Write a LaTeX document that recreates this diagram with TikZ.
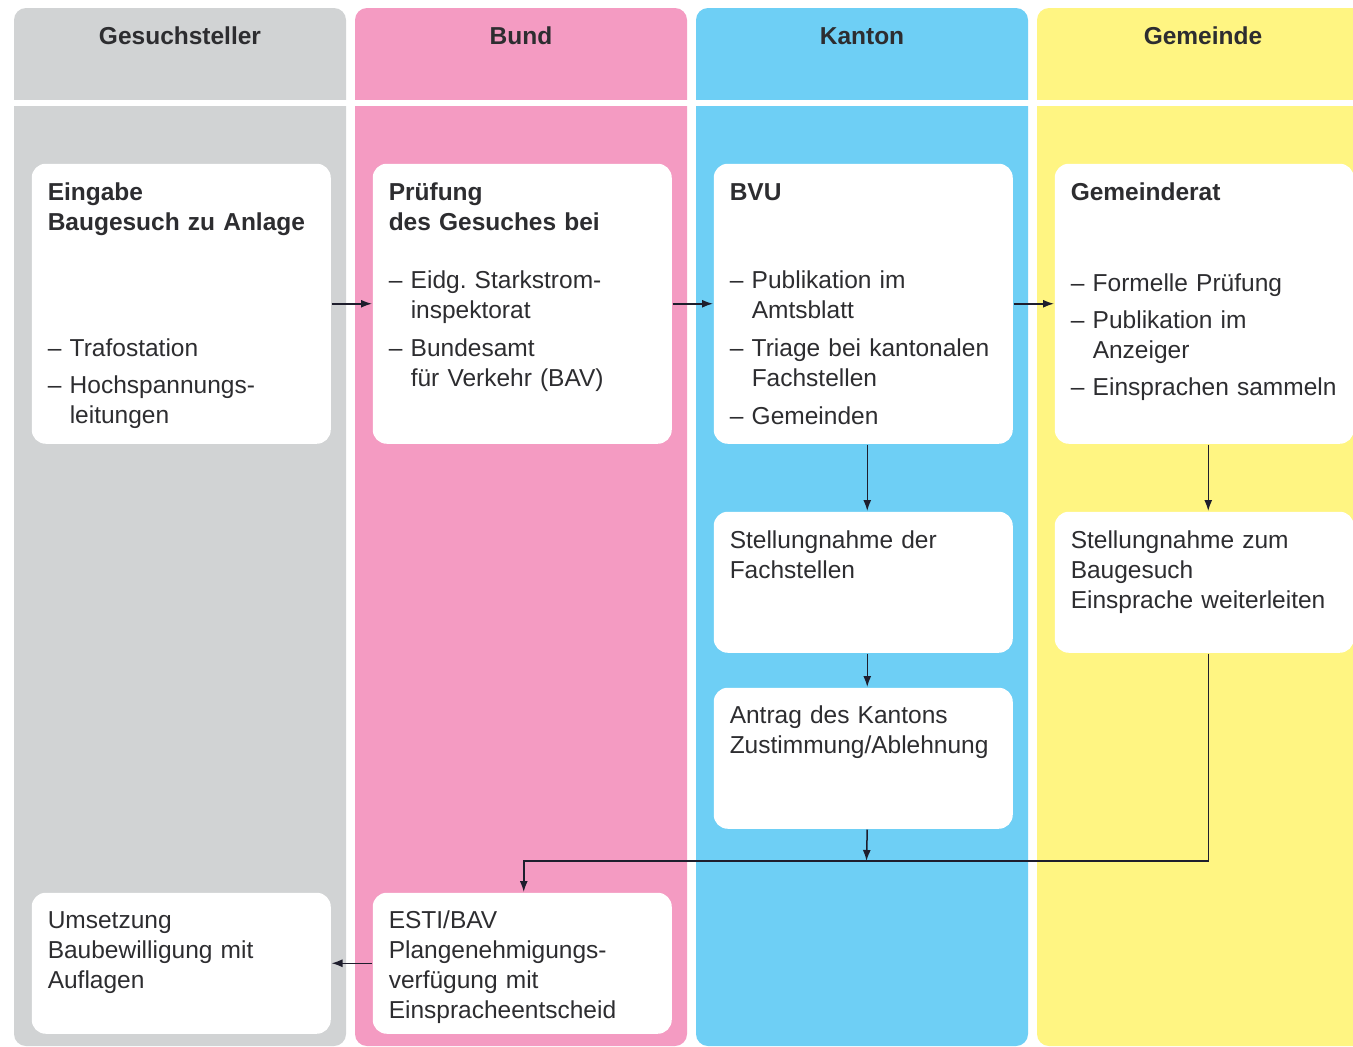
\documentclass[tikz,border=0pt]{standalone}
\usepackage{fontspec}
\setmainfont{Liberation Sans}
\usetikzlibrary{arrows.meta}
\frenchspacing

\definecolor{laneGray}{RGB}{209,211,212}
\definecolor{lanePink}{RGB}{244,155,194}
\definecolor{laneBlue}{RGB}{110,207,245}
\definecolor{laneYellow}{RGB}{255,245,130}
\definecolor{txtDark}{RGB}{45,45,48}
\definecolor{lineDark}{RGB}{30,30,45}

\newcommand{\dashitem}{\makebox[22pt][l]{–}}
\newcommand{\dashcont}{\hspace*{22pt}}

\tikzset{every picture/.style={line width=1.5pt}}
\tikzset{
  lane/.style={rounded corners=12pt},
  stepbox/.style={fill=white, draw=none, rounded corners=14pt, anchor=north west, inner sep=0pt,
    minimum width=299pt, minimum height=280pt},
  lowbox/.style={stepbox, minimum height=141pt},
  boxtext/.style={anchor=base west, align=left, text width=300pt, inner sep=0pt,
    font=\fontsize{24.5}{30}\selectfont, text=txtDark},
  headtext/.style={anchor=base, inner sep=0pt, font=\fontsize{24.5}{30}\selectfont\bfseries, text=txtDark},
  flow/.style={draw=lineDark, line width=1.5pt, -{Latex[length=11pt,width=8pt]}}
}

\begin{document}
\begin{tikzpicture}[x=1pt,y=1pt,yscale=-1,xscale=1]
\clip (0,0) rectangle (1353,1047);
\fill[white] (0,0) rectangle (1353,1047);

%Lanes
\fill[lane, laneGray] (14,8) rectangle (346,1046);
\fill[lane, lanePink] (355,8) rectangle (687,1046);
\fill[lane, laneBlue] (696,8) rectangle (1028,1046);
\fill[lane, laneYellow] (1037,8) rectangle (1369,1046);
%Separator under the headers
\fill[white] (0,100) rectangle (1353,106);

%Headers
\node[headtext] (hGes) at (180,44) {Gesuchsteller};
\node[headtext] (hBund) at (521,44) {Bund};
\node[headtext] (hKanton) at (862,44) {Kanton};
\node[headtext] (hGem) at (1203,44) {Gemeinde};

%Boxes
\node[stepbox] (eingabe) at (31,163) {};
\node[stepbox] (pruefung) at (372,163) {};
\node[stepbox] (bvu) at (713,163) {};
\node[stepbox] (gemrat) at (1054,163) {};
\node[lowbox] (kstell) at (713,511) {};
\node[lowbox] (gstell) at (1054,511) {};
\node[lowbox] (antrag) at (713,687) {};
\node[lowbox] (umsetzung) at (31,892) {};
\node[lowbox] (esti) at (372,892) {};

%Texts Gesuchsteller
\node[boxtext, font=\fontsize{24.5}{30}\selectfont\bfseries] (tEingabe) at (47,200) {Eingabe\\Baugesuch zu Anlage};
\node[boxtext] (lEingabe) at (47,356) {\dashitem Trafostation\\[7pt]\dashitem Hochspannungs-\\\dashcont leitungen};
\node[boxtext] (tUmsetzung) at (47,928) {Umsetzung\\Baubewilligung mit\\Auflagen};

%Texts Bund
\node[boxtext, font=\fontsize{24.5}{30}\selectfont\bfseries] (tPruefung) at (388,200) {Prüfung\\des Gesuches bei};
\node[boxtext] (lPruefung) at (388,288) {\dashitem Eidg. Starkstrom-\\\dashcont inspektorat\\[8pt]\dashitem Bundesamt\\\dashcont für Verkehr (BAV)};
\node[boxtext] (tEsti) at (388,928) {ESTI/BAV\\Plangenehmigungs-\\verfügung mit\\Einspracheentscheid};

%Texts Kanton
\node[boxtext, font=\fontsize{24.5}{30}\selectfont\bfseries] (tBvu) at (729,200) {BVU};
\node[boxtext] (lBvu) at (729,288) {\dashitem Publikation im\\\dashcont Amtsblatt\\[8pt]\dashitem Triage bei kantonalen\\\dashcont Fachstellen\\[8pt]\dashitem Gemeinden};
\node[boxtext] (tKstell) at (729,548) {Stellungnahme der\\Fachstellen};
\node[boxtext] (tAntrag) at (729,723) {Antrag des Kantons\\Zustimmung/Ablehnung};

%Texts Gemeinde
\node[boxtext, font=\fontsize{24.5}{30}\selectfont\bfseries] (tGemrat) at (1070,200) {Gemeinderat};
\node[boxtext] (lGemrat) at (1070,291) {\dashitem Formelle Prüfung\\[7pt]\dashitem Publikation im\\\dashcont Anzeiger\\[7pt]\dashitem Einsprachen sammeln};
\node[boxtext] (tGstell) at (1070,548) {Stellungnahme zum\\Baugesuch\\Einsprache weiterleiten};

%Connectors
\coordinate (join) at (866.5,861);
\draw[flow] (eingabe.east) -- (pruefung.west);
\draw[flow] (pruefung.east) -- (bvu.west);
\draw[flow] (bvu.east) -- (gemrat.west);
\draw[flow] ([xshift=4pt]bvu.south) -- ([xshift=4pt]kstell.north);
\draw[flow] ([xshift=4pt]gemrat.south) -- ([xshift=4pt]gstell.north);
\draw[flow] ([xshift=4pt]kstell.south) -- ([xshift=4pt]antrag.north);
\draw[flow] ([xshift=4pt]antrag.south) -- (join);
\draw[flow] ([xshift=4pt]gstell.south) |- ([xshift=1.5pt]esti.north |- join) -- ([xshift=1.5pt]esti.north);
\draw[flow] (esti.west) -- (umsetzung.east);

\end{tikzpicture}
\end{document}
